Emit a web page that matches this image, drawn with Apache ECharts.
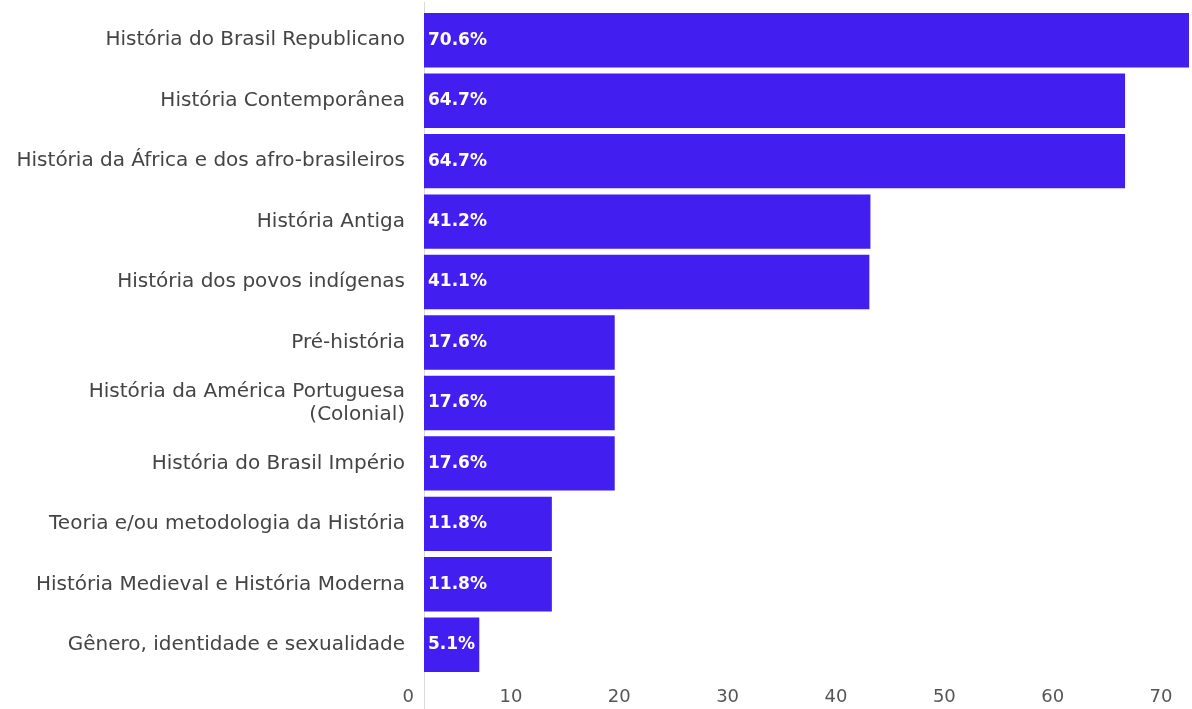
<!DOCTYPE html>
<html>
<head>
<meta charset="utf-8">
<style>
  html, body { margin: 0; padding: 0; background: #ffffff; }
  #chart { width: 1192px; height: 709px; }
</style>
<script src="https://cdn.jsdelivr.net/npm/echarts@6/dist/echarts.min.js"></script>
</head>
<body>
<div id="chart"></div>
<script>
// Subject areas, top to bottom
const categories = [
  'História do Brasil Republicano',
  'História Contemporânea',
  'História da África e dos afro-brasileiros',
  'História Antiga',
  'História dos povos indígenas',
  'Pré-história',
  'História da América Portuguesa\n(Colonial)',
  'História do Brasil Império',
  'Teoria e/ou metodologia da História',
  'História Medieval e História Moderna',
  'Gênero, identidade e sexualidade'
];

// Share of respondents (%)
const values = [70.6, 64.7, 64.7, 41.2, 41.1, 17.6, 17.6, 17.6, 11.8, 11.8, 5.1];

// Value-axis ticks
const tickStep = 10;

const FONT = '"DejaVu Sans", Roboto, sans-serif';

const chart = echarts.init(document.getElementById('chart'));

chart.setOption({
  animation: false,
  backgroundColor: '#ffffff',
  grid: { left: 424, right: 2, top: 10, bottom: 34, containLabel: false },
  xAxis: {
    type: 'value',
    min: 0,
    max: 'dataMax',
    interval: tickStep,
    splitLine: { show: false },
    axisLine: { show: false },
    axisTick: { show: false },
    axisLabel: {
      color: '#555555',
      fontFamily: FONT,
      fontSize: 18,
      margin: 13,
      align: 'right',
      padding: [0, 10, 0, 0],
      formatter: v => (v % tickStep === 0 ? String(v) : '')
    }
  },
  yAxis: {
    type: 'category',
    data: categories,
    inverse: true,
    axisLine: { show: true, lineStyle: { color: '#d9d9d9', width: 1 } },
    axisTick: { show: false },
    axisLabel: {
      color: '#444444',
      fontFamily: FONT,
      fontSize: 20,
      margin: 19,
      lineHeight: 23,
      align: 'right'
    }
  },
  series: [{
    type: 'bar',
    data: values,
    barCategoryGap: '10%',
    itemStyle: { color: '#421ef0' },
    label: {
      show: true,
      position: 'insideLeft',
      distance: 4,
      color: '#ffffff',
      fontFamily: FONT,
      fontWeight: 'bold',
      fontSize: 17,
      formatter: p => p.value.toFixed(1) + '%'
    }
  }],
  graphic: [{
    // axis rule continues down past the plot area
    type: 'line',
    shape: { x1: 424.5, y1: 675, x2: 424.5, y2: 709 },
    style: { stroke: '#d9d9d9', lineWidth: 1 }
  }, {
    type: 'line',
    shape: { x1: 424.5, y1: 2, x2: 424.5, y2: 10 },
    style: { stroke: '#d9d9d9', lineWidth: 1 }
  }]
});
</script>
</body>
</html>
